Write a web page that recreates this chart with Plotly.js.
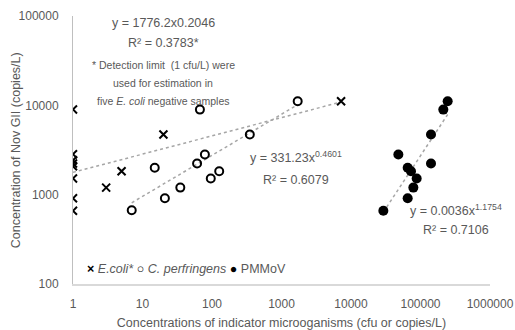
<!DOCTYPE html>
<html><head><meta charset="utf-8">
<script src="https://cdn.plot.ly/plotly-3.0.1.min.js"></script>
<style>html,body{margin:0;padding:0;background:#fff}#chart{width:515px;height:330px}</style>
</head><body><div id="chart"></div>
<script>
// E. coli
const ecoliX = [1, 1, 1, 1, 1, 1, 1, 1, 3, 5, 20, 7200];
const ecoliY = [9000, 2840, 2430, 2230, 2080, 1520, 910, 660, 1200, 1830, 4710, 11100];
// C. perfringens
const cperfX = [7, 15, 21, 35, 61, 67, 79, 96, 127, 350, 1710];
const cperfY = [670, 2000, 910, 1200, 2230, 8960, 2810, 1520, 1830, 4710, 11100];
// PMMoV
const pmmovX = [246000, 213000, 141600, 48000, 141600, 65400, 73000, 88100, 78900, 65400, 29200];
const pmmovY = [11100, 8960, 4710, 2810, 2230, 2000, 1830, 1520, 1200, 910, 660];
// Power trendline endpoints
const ecoliTrendX = [1, 7200];
const ecoliTrendY = [1776, 10900];
const cperfTrendX = [7, 1710];
const cperfTrendY = [811, 10170];
const pmmovTrendX = [29200, 246000];
const pmmovTrendY = [637, 7900];
// Legend labels
const seriesNames = ['<i>E.coli*</i>', '<i>C. perfringens</i>', 'PMMoV'];
const seriesGlyphs = ['×', '○', '●'];
const yTitle = 'Concentration of Nov GII (copies/L)';
const xTitle = 'Concentrations of indicator microoganisms (cfu or copies/L)';

const gray = '#595959';
const FONT = 'Liberation Sans, Arial, sans-serif';
const trendStyle = {color: '#a6a6a6', width: 1.5, dash: 'dot'};

const traces = [
  {x: ecoliTrendX, y: ecoliTrendY, mode: 'lines', line: trendStyle, hoverinfo: 'skip'},
  {x: cperfTrendX, y: cperfTrendY, mode: 'lines', line: trendStyle, hoverinfo: 'skip'},
  {x: pmmovTrendX, y: pmmovTrendY, mode: 'lines', line: trendStyle, hoverinfo: 'skip'},
  {x: ecoliX, y: ecoliY, mode: 'markers', name: seriesNames[0],
   marker: {symbol: 'x-thin-open', size: 8, color: '#000', line: {color: '#000', width: 2}}},
  {x: cperfX, y: cperfY, mode: 'markers', name: seriesNames[1],
   marker: {symbol: 'circle-open', size: 8, color: '#000', line: {color: '#000', width: 2}}},
  {x: pmmovX, y: pmmovY, mode: 'markers', name: seriesNames[2],
   marker: {symbol: 'circle', size: 10, color: '#000'}}
];

const ann = (x, y, text, size, xanchor) => ({xref: 'paper', yref: 'paper', x: x, y: y, text: text, showarrow: false,
  font: {family: FONT, size: size || 12.5, color: gray}, xanchor: xanchor || 'center', yanchor: 'middle'});
const px = p => (p - 73) / 417;
const py = p => (284 - p) / 268.5;

const legendText = seriesNames.map((n, i) =>
  '<span style="color:#000"><b>' + seriesGlyphs[i] + '</b></span> ' + n).join(' ');

const yTitleAnn = Object.assign(ann(px(16), py(150), yTitle, 12.5), {textangle: -90});

const layout = {
  width: 515, height: 330,
  margin: {l: 73, r: 25, t: 15.5, b: 46},
  paper_bgcolor: '#fff', plot_bgcolor: '#fff',
  font: {family: FONT, color: gray, size: 12},
  showlegend: false,
  xaxis: {type: 'log', range: [0, 6], showgrid: false, zeroline: false,
    showline: true, linecolor: '#d9d9d9', linewidth: 1.5,
    ticks: 'outside', ticklen: 8, tickcolor: 'rgba(0,0,0,0)',
    tickvals: [1, 10, 100, 1000, 10000, 100000, 1000000],
    ticktext: ['1', '10', '100', '1000', '10000', '100000', '1000000'],
    tickfont: {size: 12, color: gray},
    title: {text: xTitle, font: {size: 12.5, color: gray}, standoff: 10}},
  yaxis: {type: 'log', range: [2, 5], showgrid: false, zeroline: false,
    showline: true, linecolor: '#bfbfbf', linewidth: 1,
    ticks: 'outside', ticklen: 11, tickcolor: 'rgba(0,0,0,0)',
    tickvals: [100, 1000, 10000, 100000],
    ticktext: ['100', '1000', '10000', '100000'],
    tickfont: {size: 12, color: gray}},
  annotations: [
    yTitleAnn,
    ann(px(85), py(269), legendText, 12.5, 'left'),
    ann(px(163), py(23), 'y = 1776.2x0.2046'),
    ann(px(163), py(43), 'R² = 0.3783*'),
    ann(px(163), py(65), '* Detection limit  (1 cfu/L) were', 10.5),
    ann(px(163), py(83), 'used for estimation in', 10.5),
    ann(px(163), py(101), 'five <i>E. coli</i> negative samples', 10.5),
    ann(px(296), py(157), 'y = 331.23x<sup>0.4601</sup>'),
    ann(px(296), py(180), 'R² = 0.6079'),
    ann(px(456), py(210), 'y = 0.0036x<sup>1.1754</sup>'),
    ann(px(456), py(230), 'R² = 0.7106')
  ]
};

Plotly.newPlot('chart', traces, layout, {displayModeBar: false, staticPlot: true});
</script></body></html>
